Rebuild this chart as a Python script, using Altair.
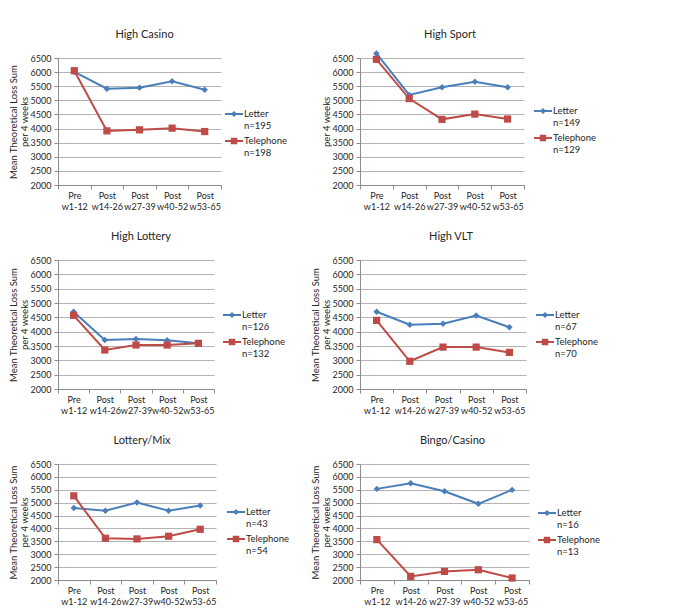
import altair as alt
import pandas as pd

periods = ["Pre w1-12", "Post w14-26", "Post w27-39", "Post w40-52", "Post w53-65"]
panel_titles = ["High Casino", "High Sport", "High Lottery", "High VLT", "Lottery/Mix", "Bingo/Casino"]
series_names = ["Letter", "Telephone"]

letter_casino = [6005, 5414, 5450, 5679, 5378]
tel_casino = [6050, 3918, 3954, 4014, 3894]
letter_sport = [6663, 5191, 5460, 5658, 5460]
tel_sport = [6453, 5062, 4326, 4512, 4338]
letter_lottery = [4698, 3709, 3744, 3698, 3593]
tel_lottery = [4570, 3360, 3535, 3535, 3593]
letter_vlt = [4693, 4244, 4279, 4566, 4152]
tel_vlt = [4394, 2967, 3462, 3462, 3277]
letter_mix = [4789, 4686, 5008, 4686, 4892]
tel_mix = [5265, 3620, 3594, 3697, 3967]
letter_bingo = [5535, 5753, 5445, 4956, 5496]
tel_bingo = [3568, 2141, 2334, 2398, 2077]

n_letter = [195, 149, 126, 67, 43, 16]
n_tel = [198, 129, 132, 70, 54, 13]

y_ticks = [2000, 2500, 3000, 3500, 4000, 4500, 5000, 5500, 6000, 6500]
y_titles = [
    ["Mean Theoretical Loss Sum", "per 4 weeks"],
    ["per 4 weeks"],
    ["Mean Theoretical Loss Sum", "per 4 weeks"],
    ["Mean Theoretical Loss Sum", "per 4 weeks"],
    ["Mean Theoretical Loss Sum", "per 4 weeks"],
    ["Mean Theoretical Loss Sum", "per 4 weeks"],
]

letters = [letter_casino, letter_sport, letter_lottery, letter_vlt, letter_mix, letter_bingo]
tels = [tel_casino, tel_sport, tel_lottery, tel_vlt, tel_mix, tel_bingo]

# layout (pixels)
widths = [163, 164, 156, 166, 158, 169]
heights = [127, 127, 129, 129, 116, 116]
legend_x = [167, 174, 165, 176, 169, 178]
legend_y = [47, 44, 46, 46, 39, 40]
title_offsets = [14, 9, 14, 14, 14, 14]
title_dx = [5, 8, 5, 8, 5, 8]

BLUE = "#4A7EBB"
RED = "#BE4B48"
FONT = "Lato"
TXT = "#262626"

letter_path = "M-1,-0.12 L1,-0.12 L1,0.12 L-1,0.12 Z M0,-0.34 L0.34,0 L0,0.34 L-0.34,0 Z"
tel_path = "M-1,-0.12 L1,-0.12 L1,0.12 L-1,0.12 Z M-0.36,-0.36 L0.36,-0.36 L0.36,0.36 L-0.36,0.36 Z"


def panel(i):
    df = pd.DataFrame({
        "period": periods * 2,
        "series": [series_names[0]] * 5 + [series_names[1]] * 5,
        "value": letters[i] + tels[i],
    })
    x = alt.X(
        "period:N", sort=periods, bandPosition=0.5,
        scale=alt.Scale(type="band", paddingInner=0, paddingOuter=0),
        axis=alt.Axis(title=None, labelExpr="split(datum.label, ' ')", labelAngle=0,
                      tickBand="extent", labelLineHeight=11, labelPadding=2,
                      labelBaseline="top", grid=False, labelFontSize=9),
    )
    y = alt.Y(
        "value:Q",
        scale=alt.Scale(domain=[2000, 6500], nice=False, zero=False),
        axis=alt.Axis(values=y_ticks, title=y_titles[i], titlePadding=1,
                      titleLineHeight=11, format="d"),
    )
    base = alt.Chart(df).encode(x=x, y=y)
    l_line = base.transform_filter(alt.datum.series == "Letter").mark_line(
        strokeWidth=2, color=BLUE)
    t_line = base.transform_filter(alt.datum.series == "Telephone").mark_line(
        strokeWidth=2, color=RED)
    l_pts = base.transform_filter(alt.datum.series == "Letter").mark_point(
        shape="diamond", filled=True, size=42, color=BLUE, opacity=1)
    t_pts = base.transform_filter(alt.datum.series == "Telephone").mark_point(
        shape="square", filled=True, size=52, color=RED, opacity=1)
    label_expr = (f"datum.label == 'Letter' ? ['Letter', 'n={n_letter[i]}'] : "
                  f"['Telephone', 'n={n_tel[i]}']")
    leg = alt.Legend(
        title=None, orient="none", legendX=legend_x[i], legendY=legend_y[i],
        symbolSize=324, symbolStrokeWidth=0, labelExpr=label_expr,
        labelFont=FONT, labelFontSize=9.5, labelColor=TXT, labelOffset=1,
        labelBaseline="middle", rowPadding=2, padding=0,
    )
    legend_layer = alt.Chart(df).transform_filter("datum.value < 0").mark_point(
        filled=True, opacity=1).encode(
        color=alt.Color("series:N", scale=alt.Scale(domain=series_names, range=[BLUE, RED]),
                        legend=leg),
        shape=alt.Shape("series:N", scale=alt.Scale(domain=series_names,
                                                    range=[letter_path, tel_path]),
                        legend=leg),
    )
    return alt.layer(l_line, t_line, l_pts, t_pts, legend_layer).properties(
        width=widths[i], height=heights[i],
        title=alt.TitleParams(panel_titles[i], anchor="middle", frame="group",
                              dx=title_dx[i], offset=title_offsets[i], font=FONT,
                              fontSize=11, fontWeight="normal", color=TXT),
    )


chart = alt.concat(
    *[panel(i) for i in range(6)], columns=2,
    spacing={"row": 75, "column": 139}, bounds="flush", align="each",
).resolve_scale(
    color="independent", shape="independent"
).resolve_legend(
    color="independent", shape="independent"
).properties(
    padding={"left": 0, "top": 21, "right": 0, "bottom": 0},
).configure_view(stroke=None).configure_axis(
    labelFont=FONT, labelFontSize=9, labelColor=TXT,
    titleFont=FONT, titleFontSize=9.5, titleFontWeight="normal", titleColor=TXT,
    domainColor="#8c8c8c", tickColor="#8c8c8c", gridColor="#b4b4b4",
    tickSize=4, labelPadding=3,
)

chart.save("out.html", embed_options={"renderer": "svg", "actions": False})
